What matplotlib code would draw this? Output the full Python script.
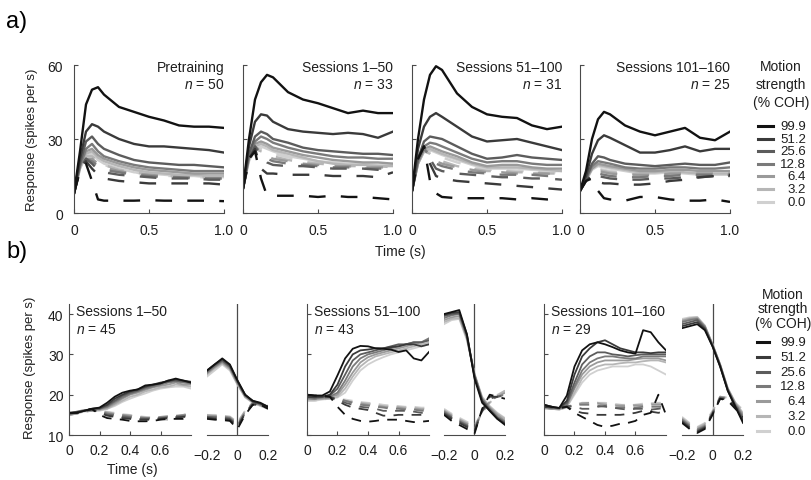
import matplotlib
matplotlib.use('Agg')
import matplotlib.pyplot as plt
from matplotlib.lines import Line2D

plt.rcParams['font.family'] = ['Liberation Sans', 'DejaVu Sans']
plt.rcParams['mathtext.fontset'] = 'custom'
plt.rcParams['mathtext.it'] = 'Liberation Sans:italic'
plt.rcParams['mathtext.rm'] = 'Liberation Sans'
plt.rcParams['lines.scale_dashes'] = False

COH = ['99.9', '51.2', '25.6', '12.8', '6.4', '3.2', '0.0']
GRAYS = ['#121212', '#3a3a3a', '#5c5c5c', '#7a7a7a', '#9a9a9a', '#b6b6b6', '#d0d0d0']

# ---- a) motion-aligned responses, 0-1 s ----
T_TOP = [0, 0.04, 0.08, 0.12, 0.16, 0.2, 0.3, 0.4, 0.5, 0.6, 0.7, 0.8, 0.9, 1.0]

PRE_PREF = [
    [8, 25, 44, 50, 51, 48, 43, 41, 39, 37.5, 35.5, 35, 35, 34.5],
    [8, 22, 33, 36, 35, 33, 30, 28, 27, 27, 26.5, 26, 25.5, 24.5],
    [8, 20, 29, 31, 28, 26, 23.5, 21.5, 20.5, 20, 19.5, 19.5, 19, 18.5],
    [8, 19, 26, 28, 25, 23, 21, 19.5, 18.5, 18, 17.5, 17, 17, 17],
    [8, 19, 25, 26, 23.5, 22, 20, 18.5, 17.5, 17, 16.5, 16, 16, 16],
    [8, 18, 24, 25, 22.5, 21, 19, 17.5, 16.5, 16, 15.5, 15.5, 15, 15],
    [8, 18, 23, 24, 21.5, 20, 18, 16.5, 16, 15.5, 15, 15, 14.5, 14.5],
]
PRE_NULL = [
    [8, 17, 20, 13, 5.5, 5, 5, 5, 5.2, 5, 5, 5, 5, 4.8],
    [8, 18, 21, 18, 15.5, 14, 13, 12.5, 12, 12, 12, 12, 12, 11.5],
    [8, 18, 22, 20, 17.5, 16.5, 15.5, 15, 14.5, 14, 14, 14, 13.5, 13.5],
    [8, 18, 22, 21, 19, 17.5, 16.5, 15.5, 15, 14.5, 14.5, 14, 14, 14],
    [8, 18, 22, 22, 20, 18.5, 17, 16, 15.5, 15, 14.5, 14.5, 14, 14],
    [8, 18, 23, 23, 21, 19.5, 17.5, 16.5, 15.5, 15, 15, 14.5, 14.5, 14.5],
    [8, 18, 23, 24, 21, 19.5, 17.5, 16.5, 15.5, 15, 15, 14.5, 14.5, 14.5],
]
S1_PREF = [
    [10, 30, 46, 53, 56, 55, 49, 46, 44.5, 42.5, 40.5, 41.5, 40.5, 40.5],
    [10, 27, 37, 40, 39.5, 37, 34, 33, 32.5, 32, 32.5, 32, 30.5, 33],
    [10, 24, 31, 33, 32, 30, 28.5, 26.5, 25.5, 25, 24.5, 24, 24, 23.5],
    [10, 23, 29, 31, 30, 28.5, 26.5, 25, 24, 23, 22.5, 22.5, 22, 22],
    [10, 22, 28, 29, 28, 26.5, 25, 23.5, 22.5, 21.5, 21, 20.5, 20.5, 20],
    [10, 22, 27, 28, 27, 25.5, 24, 22.5, 21, 20, 19.5, 19.5, 19, 19],
    [10, 21, 26, 27, 26, 25, 23, 22, 21, 20.5, 20, 20, 19.5, 20],
]
S1_NULL = [
    [10, 22, 25, 14, 7, 7, 7, 7, 6.5, 7, 6.5, 6.5, 6, 5.5],
    [10, 22, 26, 18, 16, 16, 15.5, 15.5, 15.5, 15, 15, 15, 14.5, 16.5],
    [10, 22, 27, 23, 20.5, 19.5, 19, 19, 18.5, 18, 18, 18, 17.5, 17.5],
    [10, 22, 27, 24, 22, 21, 20, 19.5, 19, 18.5, 18.5, 18, 18, 18],
    [10, 21, 27, 25, 23, 22, 21, 20, 19.5, 19, 19, 18.5, 18.5, 18.5],
    [10, 21, 26, 25, 24, 23, 21.5, 20.5, 20, 19.5, 19, 19, 19, 18.5],
    [10, 21, 26, 26, 25, 24, 22.5, 21.5, 20.5, 20, 19.5, 19.5, 19.5, 19.5],
]
S2_PREF = [
    [9, 30, 46, 56, 59.5, 58, 48.5, 43, 40, 39, 38.5, 35.5, 34, 35],
    [9, 26, 35, 39, 40.5, 39, 35, 31, 29, 29.5, 30, 28.5, 27, 25.5],
    [9, 22, 29, 31, 30.5, 30, 27, 24, 22, 22.5, 23.5, 22.5, 22, 21.5],
    [9, 21, 27, 28.5, 28, 27, 24.5, 22, 20.5, 21, 21, 20, 19.5, 19.5],
    [9, 20, 26, 27, 26, 25, 23, 20.5, 19, 19.5, 19.5, 18.5, 18, 18],
    [9, 20, 25, 26, 25, 24, 22, 20, 18.5, 18.5, 18.5, 18, 17.5, 17],
    [9, 20, 25, 25.5, 24.5, 23.5, 21.5, 19.5, 18, 18, 18, 17.5, 17, 17],
]
S2_NULL = [
    [9, 22, 27, 13, 8, 6.5, 6, 6, 6, 6, 5.5, 6, 5.5, 6],
    [9, 22, 27, 20, 15, 14, 13, 12.5, 12, 11.5, 11, 10.5, 10, 9.5],
    [9, 22, 27, 22, 18, 17, 16, 15.5, 15, 14.5, 14.5, 14, 14, 13.5],
    [9, 21, 26, 23, 20, 19, 17.5, 16.5, 16, 15.5, 15.5, 15.5, 15, 15],
    [9, 21, 26, 24, 21, 20, 18.5, 17.5, 16.5, 16.5, 16, 16, 16, 15.5],
    [9, 21, 25, 24, 22, 21, 19, 18, 17, 17, 16.5, 16.5, 16, 16],
    [9, 20, 25, 25, 23.5, 22.5, 20.5, 19, 17.5, 17.5, 17, 17, 16.5, 16.5],
]
S3_PREF = [
    [9, 17, 30, 38, 41, 40, 35.5, 33, 31.5, 33, 34.5, 30.5, 29.5, 33],
    [9, 15, 24, 29.5, 31.5, 30.5, 27.5, 24.5, 24.5, 25.5, 27, 25, 26, 26],
    [9, 14, 20, 23, 22.5, 21.5, 20, 19.5, 19, 19.5, 20, 19.5, 19.5, 20.5],
    [9, 14, 19, 21, 20.5, 20, 18.5, 18, 18, 18.5, 18.5, 18, 18, 18.5],
    [9, 13.5, 18, 20, 19.5, 19, 18, 17, 17, 17.5, 17.5, 17, 17, 17],
    [9, 13.5, 18, 19.5, 19, 18.5, 17.5, 16.5, 16.5, 17, 16.5, 16, 16, 16],
    [9, 13, 17.5, 19, 18.5, 18, 17, 16, 16, 16.5, 16, 15.5, 15.5, 15.5],
]
S3_NULL = [
    [9, 13, 14, 9, 6, 5.5, 5, 6.5, 6.5, 5.5, 5, 5, 5.5, 4.5],
    [9, 13, 15, 12.5, 12, 12, 11.5, 11.5, 12, 13, 13.5, 14.5, 15, 15.5],
    [9, 13.5, 16.5, 15, 14.5, 14, 13.5, 13.5, 14, 14, 14.5, 14.5, 15, 15],
    [9, 13.5, 17, 16, 15.5, 15, 14.5, 14.5, 15, 15, 15.5, 15.5, 15.5, 15.5],
    [9, 13.5, 17, 17, 16.5, 16, 15.5, 15.5, 15.5, 16, 16, 16, 16, 16],
    [9, 13, 17, 17.5, 17, 16.5, 16, 15.5, 15.5, 16, 16, 15.5, 15.5, 15.5],
    [9, 13, 17, 18, 17.5, 17, 16.5, 16, 16, 16, 15.5, 15.5, 15.5, 15.5],
]
TOP_TITLES = ['Pretraining', 'Sessions 1\u201350', 'Sessions 51\u2013100', 'Sessions 101\u2013160']
TOP_N = [50, 33, 31, 25]

# ---- b) motion-aligned (0-0.8 s) and saccade-aligned (-0.2-0.2 s) ----
T_MOT = [0, 0.05, 0.1, 0.15, 0.2, 0.25, 0.3, 0.35, 0.4, 0.45, 0.5, 0.55, 0.6, 0.65, 0.7, 0.75, 0.8]
T_SAC = [-0.2, -0.15, -0.1, -0.05, 0, 0.05, 0.1, 0.15, 0.2]

B1_MOT_PREF = [
    [15.5, 15.5, 16, 16.5, 16.8, 18, 19.5, 20.5, 21, 21.3, 22.3, 22.5, 22.8, 23.5, 24, 23.5, 23],
    [15.5, 15.7, 16, 16.5, 16.7, 17.5, 19, 20, 20.8, 21.3, 22, 22.5, 23, 23.3, 23.8, 23.5, 23.2],
    [15.3, 15.5, 16, 16.5, 16.5, 17.3, 18.5, 19.7, 20.5, 21, 21.8, 22.3, 22.8, 23.5, 23.5, 23.3, 23],
    [15.3, 15.8, 16.2, 16.3, 16.5, 17, 18.2, 19.3, 20.2, 20.8, 21.5, 22, 22.5, 23, 23.3, 23, 22.8],
    [15, 15.5, 16, 16.3, 16.3, 16.8, 17.8, 19, 20, 20.5, 21.2, 21.8, 22.2, 22.5, 23, 22.5, 22.5],
    [15, 15.3, 16, 16, 16.2, 16.5, 17.5, 18.5, 19.5, 20, 20.8, 21.3, 21.8, 22, 22.5, 22.3, 22],
    [15, 15.3, 15.8, 16, 16, 16.5, 17.2, 18.2, 19, 19.7, 20.3, 21, 21.5, 21.8, 22, 22, 21.5],
]
B1_MOT_NULL = [
    [15.5, 15.5, 16, 16.5, 15, 14.2, 14, 13.8, 13.5, 13.4, 13.4, 13.5, 13.8, 14, 14, 14, 14.2],
    [15.5, 15.5, 16, 16.3, 15.5, 14.8, 14.5, 14.2, 14, 13.8, 13.8, 13.8, 14, 14.2, 14.3, 14.5, 14.5],
    [15.3, 15.5, 16, 16.3, 15.8, 15, 14.8, 14.5, 14.3, 14, 14, 14, 14.2, 14.3, 14.5, 14.6, 14.8],
    [15.3, 15.5, 16, 16.2, 16, 15.3, 15, 14.8, 14.5, 14.3, 14.2, 14.2, 14.3, 14.5, 14.7, 14.8, 15],
    [15, 15.3, 15.8, 16, 16, 15.5, 15.2, 15, 14.8, 14.5, 14.3, 14.3, 14.5, 14.7, 14.8, 15, 15.3],
    [15, 15.3, 15.8, 16, 16, 15.7, 15.3, 15, 14.8, 14.5, 14.3, 14, 14, 13.8, 14, 14.8, 15.8],
    [15, 15.3, 15.8, 16, 16, 15.8, 15.5, 15.2, 15, 14.7, 14.5, 14.3, 14, 13.8, 14.2, 15, 15.5],
]
B1_SAC_PREF = [
    [26, 27.5, 29, 27.5, 23.5, 20, 18.5, 18, 17],
    [26, 27.5, 28.8, 27.3, 23.5, 20, 18.3, 17.8, 16.8],
    [25.8, 27.3, 28.5, 27, 23.2, 19.8, 18.5, 17.8, 17],
    [25.5, 27, 28.3, 26.8, 23, 19.8, 18.3, 17.5, 16.8],
    [25.3, 26.8, 28, 26.5, 22.8, 19.5, 18.2, 17.5, 16.8],
    [25, 26.5, 27.8, 26.3, 22.5, 19.5, 18, 17.3, 16.5],
    [24.5, 26, 27.5, 26, 22.5, 19.3, 18, 17.2, 16.5],
]
B1_SAC_NULL = [
    [14, 13.8, 13.7, 13.5, 11.5, 15, 17.5, 17.5, 16.5],
    [14.3, 14, 14, 13.8, 12, 15.3, 17.5, 17.5, 16.8],
    [14.5, 14.3, 14.3, 14, 12.3, 15.5, 17.8, 17.8, 17],
    [14.5, 14.5, 14.5, 14.2, 12.5, 15.5, 17.8, 17.5, 17],
    [14.8, 14.7, 14.6, 14.4, 12.8, 15.8, 18, 17.8, 17],
    [15, 14.8, 14.7, 14.5, 13, 16, 18, 17.8, 17.2],
    [15, 15, 14.8, 14.6, 13.2, 16, 18, 18, 17.3],
]
B2_MOT_PREF = [
    [20, 19.8, 19.8, 20.8, 24.8, 29, 31.4, 32.1, 32, 31.5, 31.4, 31.2, 30.6, 31, 29, 28.5, 30.6],
    [19.5, 19.5, 19.5, 20, 22.5, 27, 30, 31, 31.2, 31.5, 31.5, 31.8, 32, 32.5, 32.5, 32, 32.5],
    [19.5, 19.3, 19.5, 19.8, 21.5, 25, 28.5, 30, 30.5, 31, 31.5, 32, 32.5, 32.5, 33, 33, 33.5],
    [19.2, 19, 19.3, 19.5, 20.5, 23.5, 27, 29, 30, 30.5, 31, 31.5, 32, 32.5, 33, 33, 34],
    [19, 19, 19, 19.3, 20, 22.5, 25.5, 28, 29.3, 30, 30.5, 31, 31.5, 32, 32.5, 33, 33.5],
    [18.8, 18.8, 19, 19, 19.5, 21.5, 24.5, 27, 28.5, 29.5, 30, 30.5, 31, 31.5, 32, 32.5, 33],
    [18.5, 18.5, 18.8, 19, 19.3, 20.5, 23.5, 26, 27.5, 28.5, 29.3, 30, 30.5, 31, 31.5, 32, 32.5],
]
B2_MOT_NULL = [
    [20, 19.8, 19.8, 19.5, 17, 15, 14, 13.5, 13.3, 13.5, 13.8, 13.8, 13.8, 13.5, 13.2, 13.3, 13.5],
    [19.5, 19.5, 19.5, 19.5, 18.5, 17.5, 16.8, 16.5, 16.2, 15.5, 14.8, 14.8, 15, 15, 15, 15, 15],
    [19.5, 19.3, 19.5, 19.5, 18.8, 18, 17.5, 17, 16.8, 16.5, 16, 16, 16, 16, 15.8, 15.5, 15.5],
    [19.2, 19, 19.3, 19.3, 19, 18.5, 18, 17.5, 17.3, 17, 16.8, 16.5, 16.5, 16.3, 16.3, 16, 16],
    [19, 19, 19, 19.2, 19, 18.5, 18, 17.8, 17.5, 17.3, 17, 16.8, 16.8, 16.5, 16.5, 16.3, 16.3],
    [18.8, 18.8, 19, 19, 18.8, 18.5, 18.2, 18, 17.8, 17.5, 17.2, 17, 17, 16.8, 16.8, 16.5, 16.5],
    [18.5, 18.5, 18.8, 19, 19, 18.8, 18.5, 18.2, 18, 17.8, 17.5, 17.3, 17.2, 17, 17, 16.8, 16.8],
]
B2_SAC_PREF = [
    [40, 40.5, 41, 35, 24, 18, 16, 14, 12.5],
    [39.8, 40.3, 40.5, 35, 24.5, 18.5, 16, 14, 12.8],
    [39.5, 40, 40.2, 34.5, 24.5, 18.5, 16.3, 14.3, 13],
    [39, 39.7, 40, 34.5, 25, 19, 16.5, 14.5, 13.3],
    [38.5, 39.2, 39.5, 34, 25, 19, 16.8, 15, 13.5],
    [38, 38.8, 39, 34, 25, 19.3, 17, 15.3, 14],
    [37.5, 38.5, 38.8, 33.5, 25.3, 19.5, 17.2, 15.5, 14.2],
]
B2_SAC_NULL = [
    [15, 13.5, 12.5, 11.5, 10.3, 16.5, 20, 19.5, 19],
    [15.3, 14, 13, 12, 10.8, 16, 19.5, 19.5, 19.5],
    [15.5, 14.3, 13.3, 12.3, 11.2, 16, 19, 19.5, 19.8],
    [15.8, 14.5, 13.5, 12.5, 11.5, 15.8, 18.5, 19.5, 20],
    [16, 14.8, 13.8, 12.8, 12, 15.5, 18.3, 19.5, 20.5],
    [16.2, 15, 14, 13, 12.3, 15.5, 18, 19.8, 21],
    [16.5, 15.3, 14.3, 13.3, 12.5, 15.5, 18, 20, 21],
]
B3_MOT_PREF = [
    [17.5, 17, 16.7, 19.8, 27, 31, 32.5, 33, 32.5, 31.8, 31, 30.5, 30.2, 36, 35.5, 33, 31],
    [17, 17, 16.7, 18.5, 25, 29.5, 31.5, 33, 33.5, 32.5, 31.5, 31, 30.5, 30.5, 30.3, 30.5, 30.5],
    [17, 16.8, 16.7, 18, 23, 27.5, 29.5, 30.5, 30.5, 30, 29.8, 29.5, 29.8, 30, 30, 30, 30],
    [17, 16.8, 16.5, 17.5, 22, 26, 28, 29, 29.5, 29.5, 29.2, 29, 29, 29.5, 29.5, 29.5, 29.5],
    [16.8, 16.5, 16.5, 17.5, 21.5, 25, 27, 28, 28.5, 28.5, 28.5, 28.5, 28.8, 29, 29, 29, 28.5],
    [16.8, 16.5, 16.3, 17, 20.5, 24, 26, 27, 27.5, 27.5, 27.8, 28, 28, 28.3, 28.5, 28.5, 28],
    [16.5, 16.5, 16.3, 17, 20, 23, 25, 26, 26.5, 27, 27, 27, 27.5, 27.5, 27, 26, 25],
]
B3_MOT_NULL = [
    [17.5, 17, 16.7, 17, 15.5, 14.5, 13.5, 12.5, 12, 12.3, 12.8, 13, 13.5, 15, 15.5, 20, 15],
    [17, 17, 16.7, 17, 16, 15.5, 15.3, 15, 15, 15, 15, 15.2, 15.5, 16, 15.8, 15.5, 16],
    [17, 16.8, 16.7, 17.2, 17, 16.5, 16.5, 17, 17.2, 16.8, 16.5, 16.3, 16.5, 16.5, 16.3, 16.5, 16.8],
    [17, 16.8, 16.5, 17, 17.5, 17.5, 17.5, 17.3, 17, 16.8, 16.8, 16.8, 16.8, 17, 17, 17, 17],
    [16.8, 16.5, 16.5, 17, 17.5, 17.8, 18, 17.8, 17.5, 17.3, 17.2, 17.2, 17.3, 17.3, 17.5, 17.5, 17.5],
    [16.8, 16.5, 16.3, 17, 17.5, 18, 18, 18, 17.8, 17.5, 17.5, 17.3, 17.5, 17.5, 17.8, 17.8, 17.8],
    [16.5, 16.5, 16.3, 16.8, 17.3, 17.8, 18, 18, 18, 17.8, 17.5, 17.5, 17.5, 17.8, 17.8, 18, 18],
]
B3_SAC_PREF = [
    [36.5, 37, 37.5, 36, 32, 27, 21, 17, 13],
    [37, 37.5, 38, 36.3, 32, 27, 21, 17, 13.5],
    [37.5, 38, 38.5, 36.5, 32.3, 27.3, 21.3, 17.3, 14],
    [38, 38.5, 38.8, 36.8, 32.3, 27.3, 21.3, 17.5, 14.5],
    [38.3, 38.8, 39, 37, 32.5, 27.5, 21.5, 17.8, 15],
    [38.5, 39, 39.2, 37, 32.5, 27.5, 21.5, 18, 15.3],
    [38.8, 39.2, 39.3, 37.2, 32.5, 27.5, 21.7, 18, 15.5],
]
B3_SAC_NULL = [
    [13, 11.5, 10.5, 11.5, 15, 19, 18.5, 16.5, 14.5],
    [13.3, 11.8, 10.8, 11.8, 15.2, 19, 18.8, 16.8, 15],
    [13.5, 12, 11, 12, 15.3, 19.2, 19, 17, 15.3],
    [13.8, 12.3, 11.3, 12.2, 15.5, 19.3, 19, 17.3, 15.5],
    [14, 12.5, 11.5, 12.5, 15.5, 19.5, 19.2, 17.5, 15.8],
    [14.2, 12.8, 11.8, 12.8, 15.8, 19.5, 19.2, 17.8, 16],
    [14.5, 13, 12, 13, 16, 19.5, 19.3, 18, 16.3],
]
BOT_TITLES = ['Sessions 1\u201350', 'Sessions 51\u2013100', 'Sessions 101\u2013160']
BOT_N = [45, 43, 29]

TXT = '#1e1e1e'
SPINE = '#4a4a4a'
W, H = 812, 481


def rect(x0, ytop, w, h):
    return [x0 / W, 1 - (ytop + h) / H, w / W, h / H]


def style(ax, size, pad):
    for s in ['top', 'right']:
        ax.spines[s].set_visible(False)
    for s in ['left', 'bottom']:
        ax.spines[s].set_color(SPINE)
        ax.spines[s].set_linewidth(0.8)
    ax.tick_params(direction='in', length=3, width=0.8, color=SPINE,
                   labelcolor=TXT, labelsize=size, pad=pad)


def draw(ax, t, pref, null, lw, dash):
    for i in reversed(range(len(COH))):
        ax.plot(t, null[i], color=GRAYS[i], lw=lw, dashes=dash)
        ax.plot(t, pref[i], color=GRAYS[i], lw=lw)


fig = plt.figure(figsize=(W / 100, H / 100), dpi=100)

# ---------------- row a ----------------
top_lefts = [74, 243, 412, 580]
top_data = [(PRE_PREF, PRE_NULL), (S1_PREF, S1_NULL), (S2_PREF, S2_NULL), (S3_PREF, S3_NULL)]
for k, x0 in enumerate(top_lefts):
    ax = fig.add_axes(rect(x0, 66, 150, 148))
    pref, null = top_data[k]
    draw(ax, T_TOP, pref, null, 1.7, (12, 11))
    ax.set_xlim(0, 1.0)
    ax.set_ylim(0, 60)
    ax.set_xticks([0, 0.5, 1.0])
    ax.set_xticklabels(['0', '0.5', '1.0'])
    ax.set_yticks([0, 30, 60])
    style(ax, 10, 7)
    ax.tick_params(axis='y', pad=8)
    if k > 0:
        ax.set_yticklabels([])
    ax.text(1.0, 0.985, TOP_TITLES[k], transform=ax.transAxes, ha='right',
            va='center', fontsize=10, color=TXT)
    ax.text(1.0, 0.87, '$n$ = %d' % TOP_N[k], transform=ax.transAxes,
            ha='right', va='center', fontsize=10, color=TXT)

fig.text(32 / W, 1 - 140 / H, 'Response (spikes per s)', rotation=90,
         ha='center', va='center', fontsize=9.5, color=TXT)
fig.text(400 / W, 1 - 252 / H, 'Time (s)', ha='center', va='center',
         fontsize=10, color=TXT)

# ---------------- row b ----------------
bot_lefts = [(69, 207), (307, 444), (544, 682)]
bot_data = [
    (B1_MOT_PREF, B1_MOT_NULL, B1_SAC_PREF, B1_SAC_NULL),
    (B2_MOT_PREF, B2_MOT_NULL, B2_SAC_PREF, B2_SAC_NULL),
    (B3_MOT_PREF, B3_MOT_NULL, B3_SAC_PREF, B3_SAC_NULL),
]
for k, (xm, xs) in enumerate(bot_lefts):
    mp, mn, sp, sn = bot_data[k]
    ax = fig.add_axes(rect(xm, 305, 122, 131))
    draw(ax, T_MOT, mp, mn, 1.3, (7, 6))
    ax.set_xlim(0, 0.8)
    ax.set_ylim(10, 42.5)
    ax.set_xticks([0, 0.2, 0.4, 0.6])
    ax.set_xticklabels(['0', '0.2', '0.4', '0.6'])
    ax.set_yticks([10, 20, 30, 40])
    style(ax, 10, 6)
    ax.tick_params(axis='y', pad=4)
    if k > 0:
        ax.set_yticklabels([])
    ax.text(0.06, 0.945, BOT_TITLES[k], transform=ax.transAxes, ha='left',
            va='center', fontsize=10, color=TXT)
    ax.text(0.06, 0.81, '$n$ = %d' % BOT_N[k], transform=ax.transAxes,
            ha='left', va='center', fontsize=10, color=TXT)

    ax2 = fig.add_axes(rect(xs, 305, 61, 131))
    draw(ax2, T_SAC, sp, sn, 1.3, (7, 6))
    ax2.axvline(0, color=SPINE, lw=0.9, zorder=0)
    ax2.set_xlim(-0.2, 0.2)
    ax2.set_ylim(10, 42.5)
    ax2.set_xticks([-0.2, 0, 0.2])
    ax2.set_xticklabels(['\u22120.2', '0', '0.2'])
    ax2.set_yticks([])
    style(ax2, 10, 6)
    ax2.spines['left'].set_visible(False)
    ax2.tick_params(axis='x', length=0, pad=9)

fig.text(30 / W, 1 - 368 / H, 'Response (spikes per s)', rotation=90,
         ha='center', va='center', fontsize=9.5, color=TXT)
fig.text(132 / W, 1 - 470 / H, 'Time (s)', ha='center', va='center',
         fontsize=10, color=TXT)


# ---------------- legends ----------------
def legend(xc, title_ys, y0, dy, x_line, x_text, fs):
    for line, y in zip(['Motion', 'strength', '(% COH)'], title_ys):
        fig.text(xc / W, 1 - y / H, line, ha='center', va='center',
                 fontsize=10, color=TXT)
    for i, lab in enumerate(COH):
        y = y0 + i * dy
        fig.add_artist(Line2D([x_line[0] / W, x_line[1] / W], [1 - y / H, 1 - y / H],
                              transform=fig.transFigure, color=GRAYS[i], lw=2.2))
        fig.text(x_text / W, 1 - y / H, lab, ha='right', va='center',
                 fontsize=fs, color=TXT)


legend(781, [67, 85, 103], 127, 12.6, (758, 773), 806, 9.5)
legend(783, [295, 309, 324], 343, 14.8, (757, 769), 806, 9.5)

fig.text(6 / W, 1 - 22 / H, 'a)', ha='left', va='center', fontsize=17, color='black')
fig.text(6 / W, 1 - 252 / H, 'b)', ha='left', va='center', fontsize=17, color='black')

fig.savefig('out.png', dpi=100)
